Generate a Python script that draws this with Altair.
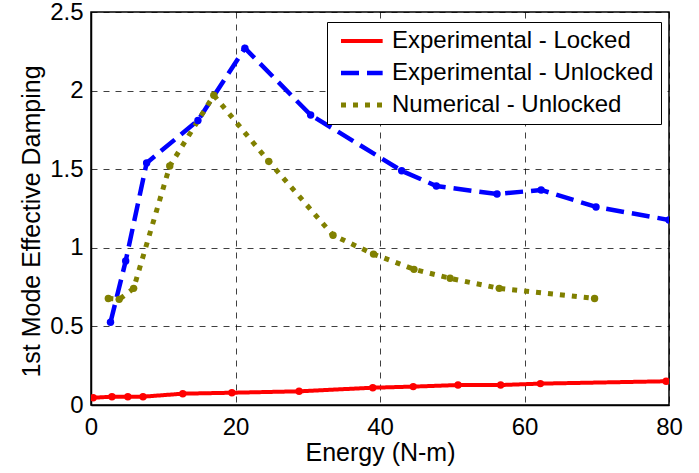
import altair as alt
import pandas as pd

series_names = ["Experimental - Locked", "Experimental - Unlocked", "Numerical - Unlocked"]

x_locked = [0.3, 2.9, 5.1, 7.2, 12.7, 19.5, 28.8, 39.0, 44.6, 50.8, 56.7, 62.2, 79.6]
y_locked = [0.046, 0.053, 0.053, 0.053, 0.072, 0.078, 0.087, 0.11, 0.117, 0.127, 0.127, 0.136, 0.151]

x_unlocked = [2.7, 4.8, 7.7, 14.8, 21.3, 30.4, 43.0, 47.8, 56.2, 62.3, 69.9, 80.0]
y_unlocked = [0.526, 0.916, 1.54, 1.81, 2.27, 1.845, 1.49, 1.393, 1.342, 1.368, 1.26, 1.177]

x_num = [2.4, 3.9, 5.9, 10.9, 17.0, 24.6, 33.5, 39.1, 44.7, 49.7, 56.5, 69.7]
y_num = [0.678, 0.672, 0.742, 1.52, 1.97, 1.55, 1.08, 0.96, 0.863, 0.806, 0.742, 0.678]

x_ticks = [0, 20, 40, 60, 80]
y_ticks = [0, 0.5, 1, 1.5, 2, 2.5]

rows = []
for name, xs, ys in zip(series_names, [x_locked, x_unlocked, x_num], [y_locked, y_unlocked, y_num]):
    for i, (xv, yv) in enumerate(zip(xs, ys)):
        rows.append({"series": name, "energy": xv, "damping": yv, "i": i})
df = pd.DataFrame(rows)

colors = ["#ff0000", "#0000ff", "#808000"]
dashes = [[1, 0], [18, 8], [5, 7]]
widths = [4, 5, 5]

legend_symbol = "M-1,0H7.33"

legend_common = dict(
    title=None, orient="none", legendX=236, legendY=10,
    strokeColor="black", fillColor="white", padding=7,
    symbolType=legend_symbol, symbolSize=100, symbolStrokeWidth=5,
    labelFont="Liberation Sans", labelFontSize=24, labelColor="black",
    labelOffset=34, rowPadding=8, labelLimit=400, cornerRadius=0,
)

x_enc = alt.X("energy:Q", scale=alt.Scale(domain=[0, 80], nice=False, zero=False),
              axis=alt.Axis(values=x_ticks, title="Energy (N-m)", titleY=55,
                            titleBaseline="alphabetic", labelPadding=10, format="~g",
                            labelFlush=False))
y_enc = alt.Y("damping:Q", scale=alt.Scale(domain=[0, 2.5], nice=False),
              axis=alt.Axis(values=y_ticks, title="1st Mode Effective Damping", format="~g",
                            titleX=-60, titleY=209, titleAlign="center", titleBaseline="middle",
                            labelPadding=8, titleFontSize=25, labelFlush=False))
color_enc = alt.Color("series:N", scale=alt.Scale(domain=series_names, range=colors),
                      legend=alt.Legend(**legend_common))

lines = alt.Chart(df).mark_line(clip=True).encode(
    x=x_enc, y=y_enc, color=color_enc,
    strokeDash=alt.StrokeDash("series:N", scale=alt.Scale(domain=series_names, range=dashes),
                              legend=alt.Legend(**legend_common)),
    strokeWidth=alt.StrokeWidth("series:N", scale=alt.Scale(domain=series_names, range=widths), legend=None),
    order="i:Q",
)
points = alt.Chart(df).mark_circle(opacity=1, clip=True, size=55).encode(
    x="energy:Q", y="damping:Q", color=alt.Color("series:N", legend=None),
)

chart = alt.layer(lines, points).properties(
    width=578, height=393,
    autosize=alt.AutoSizeParams(type="none"),
    padding={"left": 91, "top": 12, "right": 30, "bottom": 68},
).configure(
    font="Liberation Sans",
).configure_view(
    stroke="black", strokeWidth=1.5,
).configure_axis(
    labelFont="Liberation Sans", titleFont="Liberation Sans",
    labelFontSize=24, titleFontSize=25, labelColor="black", titleColor="black",
    titleFontWeight="normal", domainColor="black", domainWidth=1.5,
    ticks=False, grid=True, gridColor="black", gridDash=[6, 6], gridWidth=1, gridOpacity=0.75,
).configure_legend(
    symbolType=legend_symbol, symbolSize=100, symbolStrokeWidth=5,
)

chart.save("out.html", embed_options={"renderer": "svg", "actions": False})
